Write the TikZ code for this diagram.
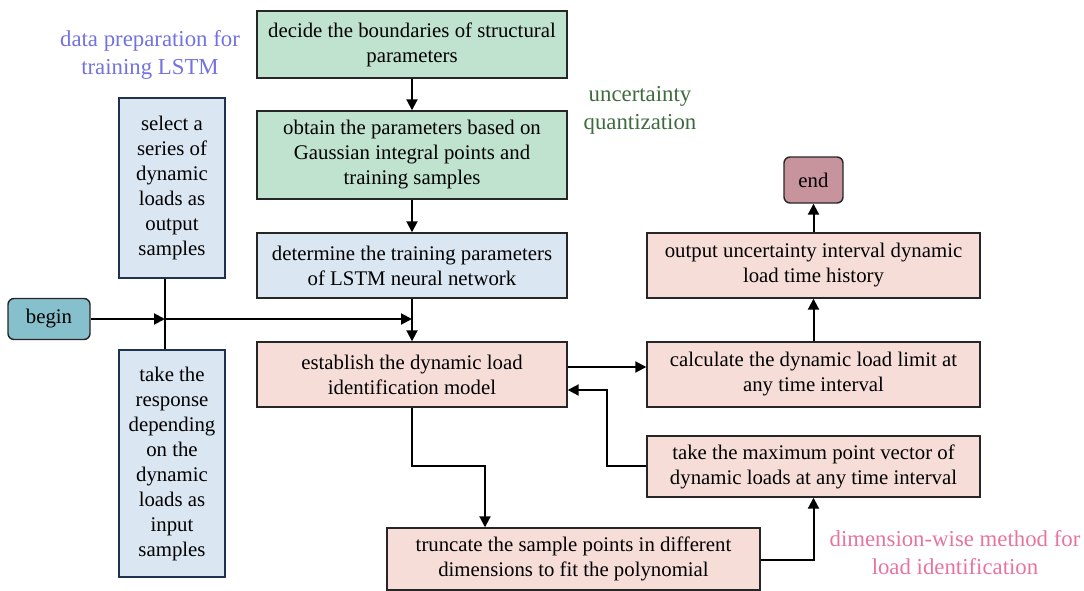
\documentclass[tikz,border=0pt]{standalone}
\usepackage{fontspec}
\setmainfont{Liberation Serif}
\usetikzlibrary{arrows.meta,calc}
\definecolor{gfill}{HTML}{BFE3CF}
\definecolor{bfill}{HTML}{DAE6F2}
\definecolor{pfill}{HTML}{F7DDD8}
\definecolor{tfill}{HTML}{86C0CC}
\definecolor{efill}{HTML}{C7949E}
\definecolor{bborder}{HTML}{1F3350}
\definecolor{lblue}{HTML}{7272E0}
\definecolor{lgreen}{HTML}{3E6B3E}
\definecolor{lpink}{HTML}{E8749E}
\tikzset{
  box/.style={draw=black!85, line width=1.4pt, align=center, inner sep=2pt,
    font=\fontsize{20.8}{25}\selectfont},
  gbox/.style={box, fill=gfill, minimum width=310pt},
  bbox/.style={box, fill=bfill, minimum width=310pt},
  pbox/.style={box, fill=pfill},
  sidebox/.style={box, fill=bfill, draw=bborder, minimum width=106pt},
  term/.style={box, rounded corners=6pt},
  arr/.style={line width=2pt, -{Triangle[length=11pt,width=11pt]}},
  ln/.style={line width=2pt},
  lab/.style={align=center, font=\fontsize{22.8}{28}\selectfont}
}
\begin{document}
\begin{tikzpicture}[x=1pt,y=-1pt]
\useasboundingbox (0,0) rectangle (1084,591);
\node[gbox, minimum height=67pt] (g1) at (412,44.5) {decide the boundaries of structural\\parameters};
\node[gbox, minimum height=88pt] (g2) at (412,155) {obtain the parameters based on\\Gaussian integral points and\\training samples};
\node[bbox, minimum height=65pt] (b3) at (412,265.5) {determine the training parameters\\of LSTM neural network};
\node[pbox, minimum width=310pt, minimum height=65pt] (est) at (412,374.5) {establish the dynamic load\\identification model};
\node[sidebox, minimum height=180pt] (lt) at (172,188) {select a\\series of\\dynamic\\loads as\\output\\samples};
\node[sidebox, minimum height=227pt] (lb) at (172,463.5) {take the\\response\\depending\\on the\\dynamic\\loads as\\input\\samples};
\node[term, fill=tfill, minimum width=82pt, minimum height=41pt] (begin) at (49,319) {begin};
\node[term, fill=efill, minimum width=59pt, minimum height=46pt] (end) at (813.5,180) {end};
\node[pbox, minimum width=333pt, minimum height=65pt] (out) at (813.5,265.5) {output uncertainty interval dynamic\\load time history};
\node[pbox, minimum width=333pt, minimum height=65pt] (calc) at (813.5,374.5) {calculate the dynamic load limit at\\any time interval};
\node[pbox, minimum width=333pt, minimum height=61pt] (maxp) at (813.5,466.5) {take the maximum point vector of\\dynamic loads at any time interval};
\node[pbox, minimum width=373pt, minimum height=62pt] (tr) at (573.5,559) {truncate the sample points in different\\dimensions to fit the polynomial};
\node[lab, text=lblue] (l1) at (150,55) {data preparation for\\training LSTM};
\node[lab, text=lgreen] (l2) at (640,110) {uncertainty\\quantization};
\node[lab, text=lpink] (l3) at (955,553) {dimension-wise method for\\load identification};
\coordinate (j) at (165,319);
\coordinate (r) at (607,466);
\coordinate (d) at (485,466);
\coordinate (t) at (813.5,560);
\draw[arr] (g1) -- (g2);
\draw[arr] (g2) -- (b3);
\draw[arr] (b3) -- (est);
\draw[ln] (j |- lt.south) -- (j |- lb.north);
\draw[arr] (begin.east |- j) -- (j);
\draw[arr] (j) -- (est.north |- j);
\draw[arr] ([yshift=7.5pt]est.east) -- ([yshift=7.5pt]est.east -| calc.west);
\draw[arr] (maxp.west |- r) -- (r) -- (r |- 0,390) -- (est.east |- 0,390);
\draw[arr] (est.south) -- (est.south |- d) -- (d) -- (tr.north -| d);
\draw[arr] (tr.east |- t) -- (t) -- (maxp.south);
\draw[arr] (calc) -- (out);
\draw[arr] (out) -- (end);
\end{tikzpicture}
\end{document}
